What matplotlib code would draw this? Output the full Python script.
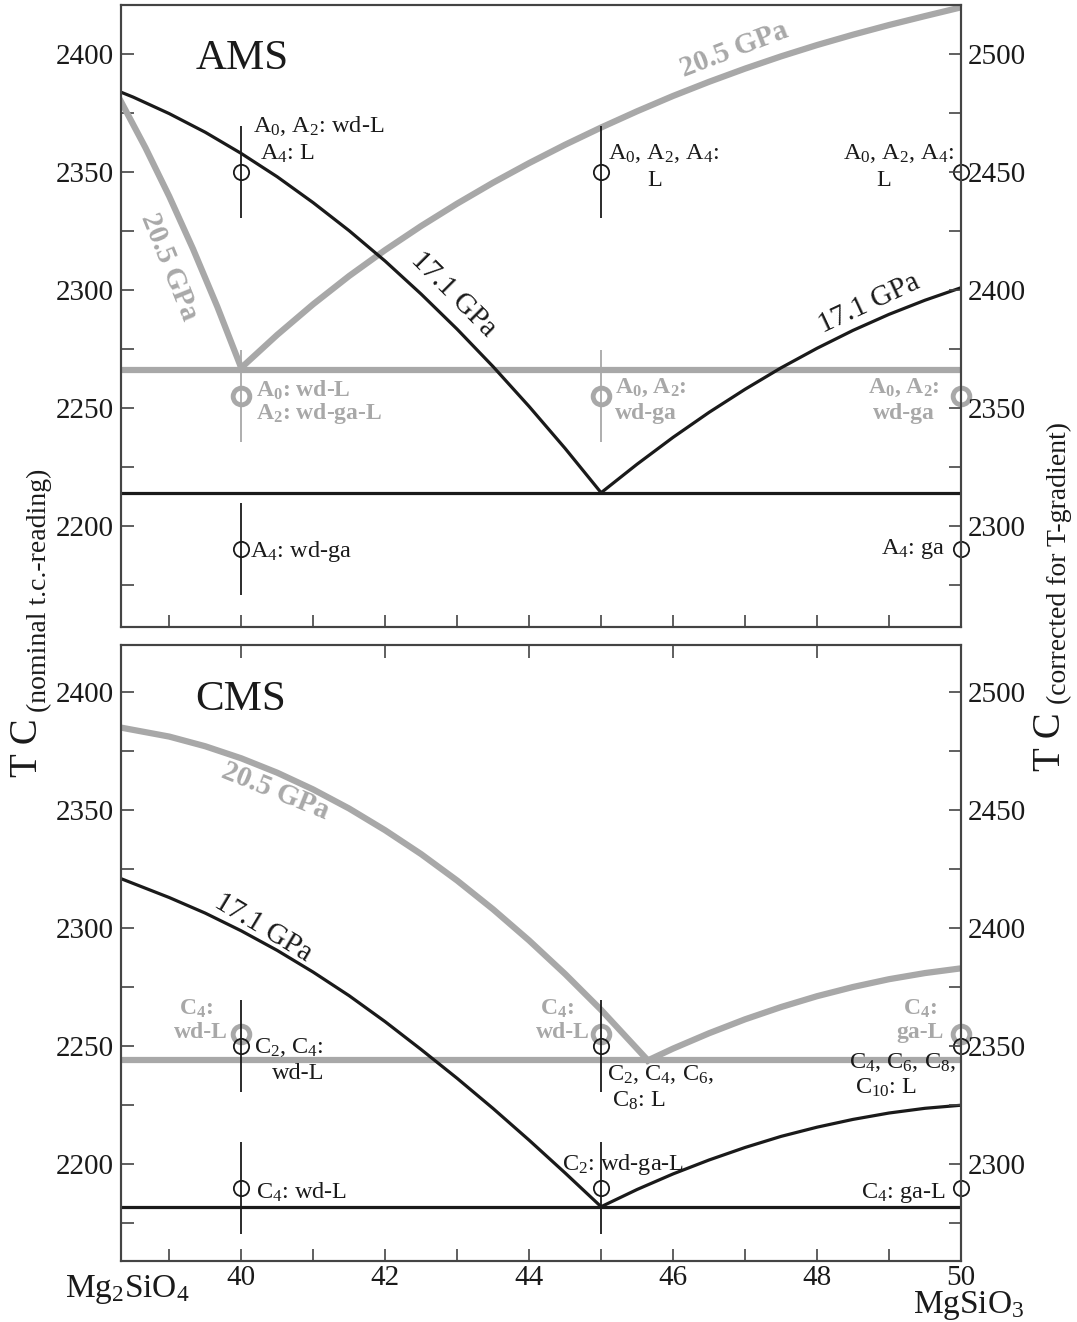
import matplotlib
matplotlib.use("Agg")
import matplotlib.pyplot as plt

plt.rcParams["font.family"] = "Liberation Serif"
plt.rcParams["mathtext.fontset"] = "custom"
plt.rcParams["mathtext.rm"] = "Liberation Serif"
plt.rcParams["mathtext.it"] = "Liberation Serif:italic"
plt.rcParams["mathtext.bf"] = "Liberation Serif:bold"

GRAY = "#a8a8a8"
INK = "#1a1a1a"
SPINE = "#444444"

# ---------------- AMS (top panel) ----------------
ams_171_left_x = [38.33, 38.5, 39, 39.5, 40, 40.5, 41, 41.5, 42, 42.5, 43, 43.5, 44, 44.5, 45]
ams_171_left_T = [2384.0, 2381.9, 2374.9, 2367.0, 2358.0, 2348.1, 2337.1, 2325.2, 2312.3,
                  2298.3, 2283.4, 2267.5, 2250.6, 2232.8, 2214.0]
ams_171_right_x = [45, 45.5, 46, 46.5, 47, 47.5, 48, 48.5, 49, 49.5, 50]
ams_171_right_T = [2214.0, 2226.1, 2237.5, 2248.1, 2257.9, 2267.0, 2275.3, 2282.9, 2289.7,
                   2295.7, 2301.0]
ams_205_left_x = [38.33, 38.67, 39, 39.33, 39.67, 40]
ams_205_left_T = [2380.0, 2360.4, 2339.8, 2317.5, 2292.8, 2267.0]
ams_205_right_x = [40, 40.5, 41, 41.5, 42, 42.5, 43, 43.5, 44, 44.5, 45, 45.5, 46, 46.5,
                   47, 47.5, 48, 48.5, 49, 49.5, 50]
ams_205_right_T = [2267.0, 2281.0, 2294.0, 2306.0, 2317.0, 2327.2, 2336.7, 2345.6, 2353.9,
                   2361.7, 2369.0, 2375.9, 2382.4, 2388.4, 2394.0, 2399.2, 2404.0, 2408.4,
                   2412.5, 2416.3, 2420.0]
ams_solidus_171 = 2214
ams_solidus_205 = 2266

ams_black_x = [40, 45, 50, 40, 50]
ams_black_T = [2350, 2350, 2350, 2190, 2190]
ams_black_err = [19.5, 19.5, 0, 19.5, 0]
ams_gray_x = [40, 45, 50]
ams_gray_T = [2255, 2255, 2255]
ams_gray_err = [19.5, 19.5, 0]

# ---------------- CMS (bottom panel) ----------------
cms_171_left_x = [38.33, 39, 39.5, 40, 40.5, 41, 41.5, 42, 42.5, 43, 43.5, 44, 44.5, 45]
cms_171_left_T = [2321.0, 2313.0, 2306.4, 2298.9, 2290.6, 2281.4, 2271.4, 2260.4, 2248.6,
                  2236.4, 2223.6, 2210.2, 2196.3, 2182.0]
cms_171_right_x = [45, 45.5, 46, 46.5, 47, 47.5, 48, 48.5, 49, 49.5, 50]
cms_171_right_T = [2182.0, 2189.3, 2195.9, 2201.8, 2207.1, 2211.8, 2215.7, 2219.0, 2221.7,
                   2223.7, 2225.0]
cms_205_left_x = [38.33, 39, 39.5, 40, 40.5, 41, 41.5, 42, 42.5, 43, 43.5, 44, 44.5, 45, 45.65]
cms_205_left_T = [2385.0, 2381.2, 2377.1, 2372.0, 2365.9, 2358.8, 2350.7, 2341.5, 2331.4,
                  2320.2, 2308.0, 2294.8, 2280.6, 2265.4, 2244.0]
cms_205_right_x = [45.65, 46, 46.5, 47, 47.5, 48, 48.5, 49, 49.5, 50]
cms_205_right_T = [2244.0, 2249.0, 2255.5, 2261.4, 2266.6, 2271.2, 2275.1, 2278.4, 2281.0, 2283.0]
cms_solidus_171 = 2182
cms_solidus_205 = 2244

cms_black_x = [40, 45, 50, 40, 45, 50]
cms_black_T = [2250, 2250, 2250, 2190, 2190, 2190]
cms_black_err = [19.5, 19.5, 0, 19.5, 19.5, 0]
cms_gray_x = [40, 45, 50]
cms_gray_T = [2255, 2255, 2255]

x_major = [40, 42, 44, 46, 48, 50]
x_minor = [39, 41, 43, 45, 47, 49]
y_major = [2200, 2250, 2300, 2350, 2400]
y_minor = [2175, 2225, 2275, 2325, 2375]
offset = 100  # right axis = corrected temperature

W, H = 1077, 1322
fig = plt.figure(figsize=(W / 100, H / 100), dpi=100)


def px(x, y):
    return x / W, 1 - y / H


ax_top = fig.add_axes([121 / W, 1 - 627 / H, 840 / W, 622 / H])
ax_bot = fig.add_axes([121 / W, 1 - 1261 / H, 840 / W, 616 / H])

TICKFS = 21


def style(ax, ylim, top_ticks, bottom_labels):
    ax.set_xlim(38.33, 50)
    ax.set_ylim(*ylim)
    ax.set_xticks(x_major)
    ax.set_xticks(x_minor, minor=True)
    ax.set_yticks(y_major)
    ax.set_yticks(y_minor, minor=True)
    ax.tick_params(axis="both", which="both", direction="in", length=9, width=1.2,
                   color=SPINE, labelsize=TICKFS, labelcolor=INK)
    ax.tick_params(axis="y", pad=5)
    ax.tick_params(axis="x", pad=3, top=top_ticks, labelbottom=bottom_labels)
    for s in ax.spines.values():
        s.set_linewidth(1.5)
        s.set_color(SPINE)
    tw = ax.twinx()
    tw.set_ylim(ylim[0] + offset, ylim[1] + offset)
    tw.set_yticks([v + offset for v in y_major])
    tw.set_yticks([v + offset for v in y_minor], minor=True)
    tw.tick_params(axis="y", which="both", direction="in", length=9, width=1.2,
                   color=SPINE, labelsize=TICKFS, labelcolor=INK, pad=5)
    for s in tw.spines.values():
        s.set_linewidth(1.5)
        s.set_color(SPINE)
    return tw


def points(ax, bx, bT, berr, gx, gT, gerr=None):
    if gerr is not None:
        ax.errorbar(gx, gT, yerr=gerr, fmt="none", ecolor=GRAY, elinewidth=1.3,
                    capsize=0, clip_on=False, zorder=4)
    ax.plot(gx, gT, "o", ms=12, mfc="none", mec=GRAY, mew=3.5, clip_on=False, zorder=5)
    ax.errorbar(bx, bT, yerr=berr, fmt="none", ecolor=INK, elinewidth=1.3,
                capsize=0, clip_on=False, zorder=6)
    ax.plot(bx, bT, "o", ms=11, mfc="none", mec=INK, mew=1.3, clip_on=False, zorder=7)


fs = 17.5
gfs = 21
kw = dict(fontsize=fs, color=INK, va="center")
gkw = dict(fontsize=17, color=GRAY, fontweight="bold", va="center")

# ---------- top panel ----------
ax = ax_top
ax.plot(ams_205_left_x, ams_205_left_T, color=GRAY, lw=4.5)
ax.plot(ams_205_right_x, ams_205_right_T, color=GRAY, lw=4.5)
ax.axhline(ams_solidus_205, color=GRAY, lw=4.5)
ax.plot(ams_171_left_x, ams_171_left_T, color=INK, lw=2.3)
ax.plot(ams_171_right_x, ams_171_right_T, color=INK, lw=2.3)
ax.axhline(ams_solidus_171, color=INK, lw=2.3)
points(ax, ams_black_x, ams_black_T, ams_black_err, ams_gray_x, ams_gray_T, ams_gray_err)
style(ax, (2157, 2421), False, False)

ax.text(39.36, 2398, "AMS", fontsize=31, color=INK, va="center")
ax.text(40.17, 2369.5, "A$_0$, A$_2$: wd-L", **kw)
ax.text(40.26, 2358, "A$_4$: L", **kw)
ax.text(45.09, 2358, "A$_0$, A$_2$, A$_4$:", **kw)
ax.text(45.64, 2346.5, "L", **kw)
ax.text(49.9, 2358, "A$_0$, A$_2$, A$_4$:", ha="right", **kw)
ax.text(48.82, 2346.5, "L", **kw)
ax.text(40.21, 2257.5, r"A$_\mathbf{0}$: wd-L", **gkw)
ax.text(40.21, 2247.5, r"A$_\mathbf{2}$: wd-ga-L", **gkw)
ax.text(45.19, 2258.5, r"A$_\mathbf{0}$, A$_\mathbf{2}$:", **gkw)
ax.text(45.19, 2247.5, "wd-ga", **gkw)
ax.text(49.7, 2258.5, r"A$_\mathbf{0}$, A$_\mathbf{2}$:", ha="right", **gkw)
ax.text(48.77, 2247.5, "wd-ga", **gkw)
ax.text(40.12, 2189, "A$_4$: wd-ga", **kw)
ax.text(49.78, 2190, "A$_4$: ga", ha="right", **kw)

ax.text(46.85, 2402, "20.5 GPa", fontsize=gfs, color=GRAY, fontweight="bold",
        rotation=21, ha="center", va="center")
ax.text(39.0, 2310, "20.5 GPa", fontsize=gfs, color=GRAY, fontweight="bold",
        rotation=-68, ha="center", va="center")
ax.text(42.95, 2298, "17.1 GPa", fontsize=gfs, color=INK, rotation=-45,
        ha="center", va="center")
ax.text(48.72, 2294, "17.1 GPa", fontsize=gfs, color=INK, rotation=25,
        ha="center", va="center")

# ---------- bottom panel ----------
ax = ax_bot
ax.plot(cms_205_left_x, cms_205_left_T, color=GRAY, lw=4.5)
ax.plot(cms_205_right_x, cms_205_right_T, color=GRAY, lw=4.5)
ax.axhline(cms_solidus_205, color=GRAY, lw=4.5)
ax.plot(cms_171_left_x, cms_171_left_T, color=INK, lw=2.3)
ax.plot(cms_171_right_x, cms_171_right_T, color=INK, lw=2.3)
ax.axhline(cms_solidus_171, color=INK, lw=2.3)
points(ax, cms_black_x, cms_black_T, cms_black_err, cms_gray_x, cms_gray_T)
style(ax, (2159, 2420), True, True)

ax.text(39.36, 2397, "CMS", fontsize=31, color=INK, va="center")
ax.text(40.47, 2358, "20.5 GPa", fontsize=gfs, color=GRAY, fontweight="bold",
        rotation=-22, ha="center", va="center")
ax.text(40.3, 2300, "17.1 GPa", fontsize=gfs, color=INK, rotation=-31,
        ha="center", va="center")
ax.text(39.13, 2266, r"C$_\mathbf{4}$:", **gkw)
ax.text(39.82, 2256, "wd-L", ha="right", **gkw)
ax.text(44.15, 2266, r"C$_\mathbf{4}$:", **gkw)
ax.text(44.84, 2256, "wd-L", ha="right", **gkw)
ax.text(49.2, 2266, r"C$_\mathbf{4}$:", **gkw)
ax.text(49.76, 2256, "ga-L", ha="right", **gkw)
ax.text(40.18, 2249.5, "C$_2$, C$_4$:", **kw)
ax.text(40.43, 2238.5, "wd-L", **kw)
ax.text(40.21, 2188, "C$_4$: wd-L", **kw)
ax.text(45.08, 2238, "C$_2$, C$_4$, C$_6$,", **kw)
ax.text(45.15, 2227, "C$_8$: L", **kw)
ax.text(44.45, 2200, "C$_2$: wd-ga-L", **kw)
ax.text(49.93, 2243, "C$_4$, C$_6$, C$_8$,", ha="right", **kw)
ax.text(48.53, 2232.5, "C$_{10}$: L", **kw)
ax.text(49.79, 2188, "C$_4$: ga-L", ha="right", **kw)

# ---------- axis titles ----------
fig.text(*px(28, 748), "T C", fontsize=28, rotation=90, ha="center", va="center", color=INK)
fig.text(*px(39, 590), "(nominal t.c.-reading)", fontsize=20, rotation=90,
         ha="center", va="center", color=INK)
fig.text(*px(1050, 742), "T C", fontsize=28, rotation=90, ha="center", va="center", color=INK)
fig.text(*px(1059, 563), "(corrected for T-gradient)", fontsize=20, rotation=90,
         ha="center", va="center", color=INK)
fig.text(*px(127, 1290), "Mg$_2$SiO$_4$", fontsize=24, ha="center", va="center", color=INK)
fig.text(*px(969, 1306), "MgSiO$_3$", fontsize=24, ha="center", va="center", color=INK)

fig.savefig("out.png", dpi=100)
